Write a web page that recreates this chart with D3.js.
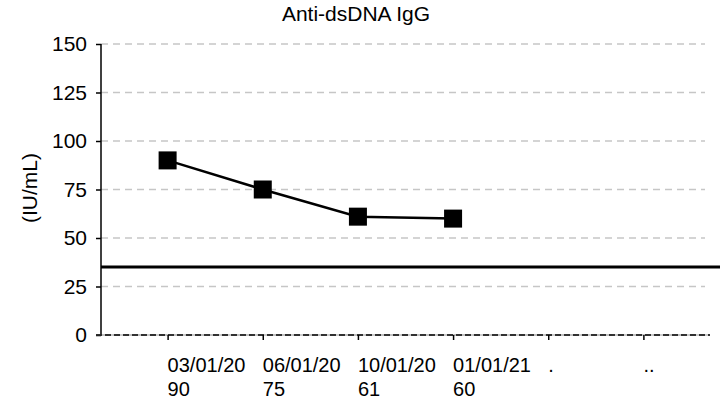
<!DOCTYPE html>
<html>
<head>
<meta charset="utf-8">
<script src="https://cdn.jsdelivr.net/npm/d3@7"></script>
<style>
  html, body { margin: 0; padding: 0; background: #fff; }
  svg { display: block; font-family: "Liberation Sans", Arial, sans-serif; }
</style>
</head>
<body>
<svg id="chart" width="720" height="404"></svg>
<script>
// ---- data ----
const categories = ["03/01/20", "06/01/20", "10/01/20", "01/01/21", ".", ".."];
const valueLabels = ["90", "75", "61", "60", "", ""];
const values = [90, 75, 61, 60];
const yTicks = [0, 25, 50, 75, 100, 125, 150];
const threshold = 35;
const title = "Anti-dsDNA IgG";
const yTitle = "(IU/mL)";

// ---- layout ----
const W = 720, H = 404;
const pLeft = 101, pRight = 710, pTop = 44, pBottom = 335;
const svg = d3.select("#chart");

const x = d3.scalePoint().domain(categories).range([pLeft, pRight]).padding(0.7);
const y = d3.scaleLinear().domain([0, 150]).range([pBottom, pTop]);

// title
svg.append("text").attr("x", 356).attr("y", 21).attr("text-anchor", "middle")
  .attr("font-size", 21).attr("fill", "#000").text(title);

// gridlines
svg.append("g").selectAll("line").data(yTicks).join("line")
  .attr("x1", pLeft).attr("x2", 705)
  .attr("y1", d => y(d)).attr("y2", d => y(d))
  .attr("stroke", "#c6c6c6").attr("stroke-width", 1.5)
  .attr("stroke-dasharray", "7,5");

// y axis
const yAxis = svg.append("g").attr("transform", `translate(${pLeft},0)`)
  .call(d3.axisLeft(y).tickValues(yTicks).tickSize(5).tickPadding(9).tickFormat(d3.format("d")));
yAxis.select(".domain").remove();
yAxis.append("line").attr("x1", 0).attr("x2", 0).attr("y1", pTop).attr("y2", pBottom)
  .attr("stroke", "#000").attr("stroke-width", 1.5);
yAxis.selectAll(".tick line").attr("stroke", "#000").attr("stroke-width", 1.5);
yAxis.selectAll(".tick text").attr("font-size", 21).attr("fill", "#000")
  .attr("font-family", "Liberation Sans, Arial, sans-serif");

// y title
svg.append("text").attr("transform", `translate(37,188) rotate(-90)`)
  .attr("text-anchor", "middle").attr("font-size", 21).attr("fill", "#000").text(yTitle);

// x axis baseline: gray under black dashes
svg.append("line").attr("x1", 96).attr("x2", pRight).attr("y1", pBottom).attr("y2", pBottom)
  .attr("stroke", "#bbbbbb").attr("stroke-width", 1.5);
svg.append("line").attr("x1", 96).attr("x2", pRight).attr("y1", pBottom).attr("y2", pBottom)
  .attr("stroke", "#000").attr("stroke-width", 1.5).attr("stroke-dasharray", "6,3");

const xAxis = svg.append("g").attr("transform", `translate(0,${pBottom})`)
  .call(d3.axisBottom(x).tickSize(5).tickFormat(""));
xAxis.select(".domain").remove();
xAxis.selectAll(".tick line").attr("stroke", "#000").attr("stroke-width", 1.5);

// x labels (two lines, left aligned at tick)
const lab = svg.append("g");
lab.selectAll("text.l1").data(categories).join("text").attr("class", "l1")
  .attr("x", d => x(d)).attr("y", 372).attr("font-size", 20).attr("fill", "#000").text(d => d);
lab.selectAll("text.l2").data(categories).join("text").attr("class", "l2")
  .attr("x", d => x(d)).attr("y", 396).attr("font-size", 20).attr("fill", "#000")
  .text((d, i) => valueLabels[i]);

// threshold line
svg.append("line").attr("x1", pLeft).attr("x2", W).attr("y1", y(threshold)).attr("y2", y(threshold))
  .attr("stroke", "#000").attr("stroke-width", 3);

// series
const pts = values.map((v, i) => ({ c: categories[i], v }));
svg.append("path").datum(pts)
  .attr("d", d3.line().x(d => x(d.c)).y(d => y(d.v)))
  .attr("fill", "none").attr("stroke", "#000").attr("stroke-width", 2.5);
const s = 18;
svg.append("g").selectAll("rect").data(pts).join("rect")
  .attr("x", d => x(d.c) - s / 2).attr("y", d => y(d.v) - s / 2)
  .attr("width", s).attr("height", s).attr("fill", "#000");
</script>
</body>
</html>
